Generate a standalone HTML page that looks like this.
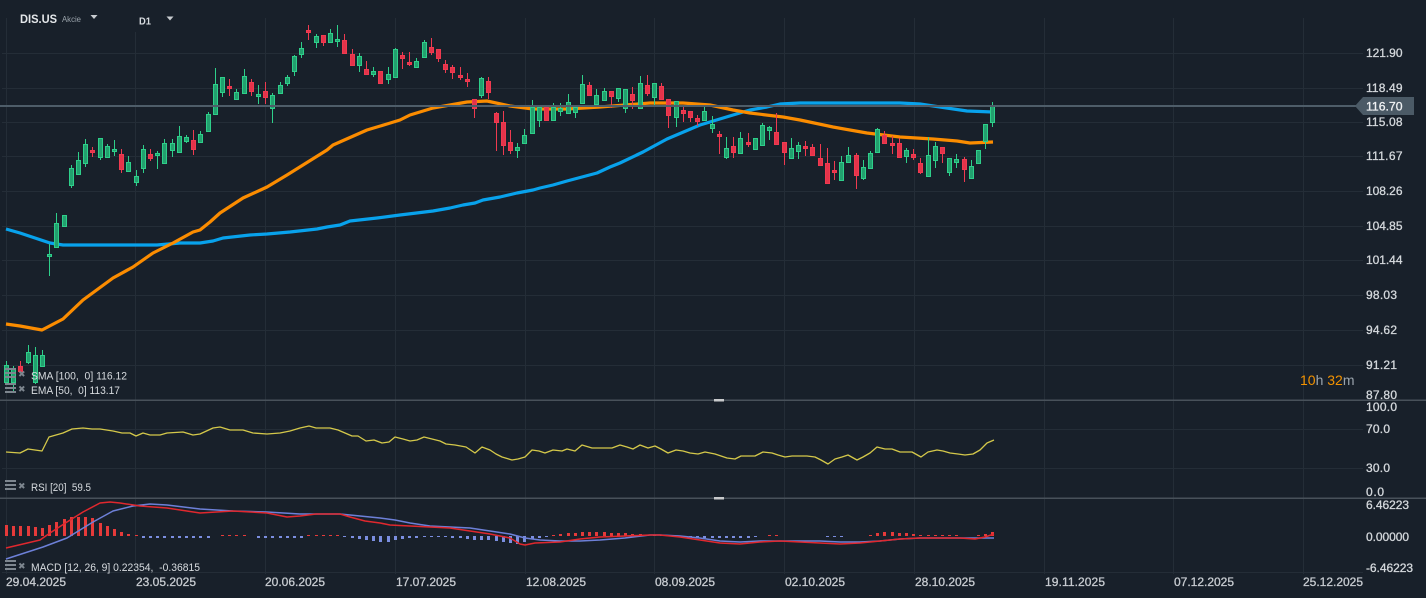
<!DOCTYPE html>
<html><head><meta charset="utf-8"><style>
html,body{margin:0;padding:0;background:#18202a;}
svg{display:block;font-family:"Liberation Sans",sans-serif;}
</style></head><body>
<svg width="1426" height="598" viewBox="0 0 1426 598" xmlns="http://www.w3.org/2000/svg">
<rect width="1426" height="598" fill="#18202a"/>
<!-- grid -->
<g stroke="#242d37" stroke-width="1">
<path d="M6.5 18V574M135.5 32V574M265.5 18V574M395.5 18V574M525.5 18V574M654.5 18V574M784.5 18V574M914.5 18V574M1044.5 18V574M1173.5 18V574M1303.5 18V574"/>
<path d="M2 53.5H1363M2 88.5H1363M2 122.5H1363M2 156.5H1363M2 191.5H1363M2 226.5H1363M2 260.5H1363M2 295.5H1363M2 330.5H1363M2 365.5H1363M2 429.5H1363M2 468.5H1363M2 572.5H1363"/>
</g>
<!-- separators -->
<rect x="0" y="399.5" width="1426" height="1.5" fill="#48515a"/>
<rect x="0" y="497.5" width="1426" height="1.5" fill="#48515a"/>
<rect x="714" y="399" width="10" height="2.5" fill="#c8cacc"/>
<rect x="714" y="497" width="10" height="2.5" fill="#c8cacc"/>

<!-- moving averages -->
<polyline fill="none" stroke="#08a2ec" stroke-width="3.2" stroke-linejoin="round" points="6,229 20,233 35,238 50,243 63,245 100,245 157,245 180,243 200,243 213,241 223,238 250,235 267,234 290,232 317,229 327,227 340,225 350,221 377,218 400,215 433,211 450,208 463,205 475,203 483,200 500,197 517,193 533,190 540,188 553,185 567,181 597,173 610,167 620,163 643,152 667,139 700,125 733,115 750,110 767,107 780,104 800,103 900,103 920,104 940,107 967,111 993,112"/>
<polyline fill="none" stroke="#fb8c00" stroke-width="3.2" stroke-linejoin="round" points="6,324 20,326 42,330 63,319 83,300 113,278 133,267 153,253 173,243 193,232 200,230 210,222 220,213 243,198 267,187 287,175 303,165 327,150 333,145 367,130 387,124 400,120 410,115 433,108 467,102 487,101 510,106 533,109 567,109 600,107 650,103 683,103 710,105 733,110 750,113 783,117 800,120 833,127 867,133 900,137 933,139 957,141 970,143 993,142"/>

<!-- wicks -->
<path fill="none" stroke="#2ecf8a" stroke-width="1" d="M6.5 361V385M13.5 366V392M28.5 345V364M35.5 347V384M42.5 350V367M49.5 244V276M56.5 213V248M64.5 215V227M71.5 165V188M78.5 152V175M85.5 139V167M100.5 138V160M107.5 144V158M114.5 140V156M128.5 156V172M136.5 170V186M143.5 145V173M157.5 151V169M164.5 139V164M172.5 139V157M179.5 126V153M186.5 135V143M200.5 131V143M208.5 112V132M215.5 68V115M222.5 77V97M236.5 89V100M244.5 69V94M258.5 85V104M272.5 93V123M280.5 82V94M287.5 75V86M294.5 55V76M301.5 42V58M316.5 34V48M330.5 29V43M337.5 25V47M359.5 53V72M373.5 67V77M388.5 67V84M395.5 48V78M416.5 58V68M424.5 40V58M481.5 77V98M517.5 143V158M524.5 129V144M532.5 100V134M539.5 107V127M553.5 103V121M560.5 103V116M568.5 94V114M575.5 107V118M582.5 75V104M596.5 89V105M604.5 88V101M618.5 88V102M625.5 89V113M640.5 76V109M654.5 83V105M676.5 101V127M704.5 107V121M712.5 116V133M726.5 137V159M740.5 132V154M755.5 138V150M762.5 123V146M769.5 126V140M791.5 138V159M798.5 142V159M841.5 156V181M848.5 147V163M863.5 160V180M870.5 151V169M877.5 128V153M906.5 148V163M928.5 137V177M935.5 142V168M949.5 158V176M956.5 154V168M971.5 160V179M978.5 150V164M985.5 124V149M992.5 102V127"/>
<path fill="none" stroke="#ef3a50" stroke-width="1" d="M20.5 361V373M92.5 147V157M121.5 149V173M150.5 149V161M193.5 130V155M229.5 79V96M251.5 79V96M265.5 82V104M308.5 25V40M323.5 35V46M344.5 34V54M352.5 49V66M366.5 61V75M380.5 71V84M402.5 52V69M409.5 52V66M431.5 38V55M438.5 49V62M445.5 60V73M452.5 65V79M460.5 67V80M467.5 73V87M474.5 99V118M488.5 77V99M496.5 112V151M503.5 111V155M510.5 130V154M546.5 107V121M589.5 82V96M611.5 91V108M632.5 87V109M647.5 75V96M661.5 83V100M668.5 99V128M683.5 105V122M690.5 111V122M697.5 115V126M719.5 131V154M733.5 137V158M748.5 133V147M776.5 113V145M784.5 142V165M805.5 141V156M812.5 144V156M820.5 144V166M827.5 148V184M834.5 161V180M856.5 153V189M884.5 131V144M892.5 136V154M899.5 138V158M913.5 149V160M920.5 158V174M942.5 147V163M964.5 157V182"/>

<!-- green bodies -->
<g fill="#22a06e" stroke="#2ecf8a" stroke-width="1">
<rect x="4.5" y="365.5" width="4" height="17"/><rect x="11.5" y="368.5" width="4" height="14"/><rect x="26.5" y="352.5" width="4" height="10"/><rect x="33.5" y="355.5" width="4" height="27"/><rect x="40.5" y="355.5" width="4" height="11"/><rect x="47.5" y="254.5" width="4" height="2"/><rect x="54.5" y="223.5" width="4" height="24"/><rect x="62.5" y="215.5" width="4" height="11"/><rect x="69.5" y="168.5" width="4" height="17"/><rect x="76.5" y="160.5" width="4" height="14"/><rect x="83.5" y="144.5" width="4" height="19"/><rect x="98.5" y="138.5" width="4" height="19"/><rect x="105.5" y="146.5" width="4" height="11"/><rect x="112.5" y="149.5" width="4" height="2"/><rect x="126.5" y="162.5" width="4" height="9"/><rect x="134.5" y="176.5" width="4" height="6"/><rect x="141.5" y="149.5" width="4" height="19"/><rect x="155.5" y="153.5" width="4" height="2"/><rect x="162.5" y="143.5" width="4" height="20"/><rect x="170.5" y="143.5" width="4" height="7"/><rect x="177.5" y="136.5" width="4" height="16"/><rect x="184.5" y="137.5" width="4" height="4"/><rect x="198.5" y="134.5" width="4" height="8"/><rect x="206.5" y="114.5" width="4" height="17"/><rect x="213.5" y="84.5" width="4" height="30"/><rect x="220.5" y="77.5" width="4" height="15"/><rect x="234.5" y="92.5" width="4" height="7"/><rect x="242.5" y="76.5" width="4" height="17"/><rect x="256.5" y="94.5" width="4" height="2"/><rect x="270.5" y="95.5" width="4" height="13"/><rect x="278.5" y="85.5" width="4" height="8"/><rect x="285.5" y="77.5" width="4" height="6"/><rect x="292.5" y="56.5" width="4" height="15"/><rect x="299.5" y="48.5" width="4" height="6"/><rect x="314.5" y="36.5" width="4" height="6"/><rect x="328.5" y="33.5" width="4" height="9"/><rect x="335.5" y="39.5" width="4" height="2"/><rect x="357.5" y="56.5" width="4" height="9"/><rect x="371.5" y="71.5" width="4" height="3"/><rect x="386.5" y="74.5" width="4" height="5"/><rect x="393.5" y="49.5" width="4" height="28"/><rect x="414.5" y="61.5" width="4" height="6"/><rect x="422.5" y="42.5" width="4" height="15"/><rect x="479.5" y="78.5" width="4" height="17"/><rect x="515.5" y="147.5" width="4" height="3"/><rect x="522.5" y="135.5" width="4" height="8"/><rect x="530.5" y="107.5" width="4" height="26"/><rect x="537.5" y="107.5" width="4" height="13"/><rect x="551.5" y="107.5" width="4" height="13"/><rect x="558.5" y="108.5" width="4" height="3"/><rect x="566.5" y="102.5" width="4" height="11"/><rect x="573.5" y="107.5" width="4" height="5"/><rect x="580.5" y="84.5" width="4" height="19"/><rect x="594.5" y="95.5" width="4" height="9"/><rect x="602.5" y="91.5" width="4" height="9"/><rect x="616.5" y="88.5" width="4" height="10"/><rect x="623.5" y="89.5" width="4" height="19"/><rect x="638.5" y="83.5" width="4" height="25"/><rect x="652.5" y="83.5" width="4" height="14"/><rect x="674.5" y="101.5" width="4" height="16"/><rect x="702.5" y="111.5" width="4" height="9"/><rect x="710.5" y="124.5" width="4" height="4"/><rect x="724.5" y="148.5" width="4" height="9"/><rect x="738.5" y="138.5" width="4" height="15"/><rect x="753.5" y="138.5" width="4" height="11"/><rect x="760.5" y="125.5" width="4" height="20"/><rect x="767.5" y="127.5" width="4" height="3"/><rect x="789.5" y="148.5" width="4" height="10"/><rect x="796.5" y="145.5" width="4" height="6"/><rect x="839.5" y="162.5" width="4" height="18"/><rect x="846.5" y="155.5" width="4" height="7"/><rect x="861.5" y="167.5" width="4" height="11"/><rect x="868.5" y="153.5" width="4" height="15"/><rect x="875.5" y="129.5" width="4" height="23"/><rect x="904.5" y="150.5" width="4" height="6"/><rect x="926.5" y="155.5" width="4" height="21"/><rect x="933.5" y="146.5" width="4" height="14"/><rect x="947.5" y="158.5" width="4" height="14"/><rect x="954.5" y="159.5" width="4" height="3"/><rect x="969.5" y="166.5" width="4" height="12"/><rect x="976.5" y="150.5" width="4" height="13"/><rect x="983.5" y="124.5" width="4" height="17"/><rect x="990.5" y="106.5" width="4" height="16"/>
</g>
<!-- red bodies -->
<g fill="#e4334a" stroke="#f03a50" stroke-width="1">
<rect x="18.5" y="366.5" width="4" height="5"/><rect x="90.5" y="150.5" width="4" height="2"/><rect x="119.5" y="154.5" width="4" height="15"/><rect x="148.5" y="154.5" width="4" height="4"/><rect x="191.5" y="140.5" width="4" height="9"/><rect x="227.5" y="86.5" width="4" height="2"/><rect x="249.5" y="82.5" width="4" height="9"/><rect x="263.5" y="91.5" width="4" height="6"/><rect x="306.5" y="30.5" width="4" height="2"/><rect x="321.5" y="35.5" width="4" height="7"/><rect x="342.5" y="40.5" width="4" height="13"/><rect x="350.5" y="54.5" width="4" height="11"/><rect x="364.5" y="69.5" width="4" height="5"/><rect x="378.5" y="71.5" width="4" height="12"/><rect x="400.5" y="55.5" width="4" height="3"/><rect x="407.5" y="62.5" width="4" height="2"/><rect x="429.5" y="47.5" width="4" height="5"/><rect x="436.5" y="49.5" width="4" height="9"/><rect x="443.5" y="64.5" width="4" height="5"/><rect x="450.5" y="67.5" width="4" height="5"/><rect x="458.5" y="75.5" width="4" height="2"/><rect x="465.5" y="79.5" width="4" height="2"/><rect x="472.5" y="99.5" width="4" height="9"/><rect x="486.5" y="81.5" width="4" height="11"/><rect x="494.5" y="113.5" width="4" height="9"/><rect x="501.5" y="122.5" width="4" height="23"/><rect x="508.5" y="142.5" width="4" height="8"/><rect x="544.5" y="107.5" width="4" height="13"/><rect x="587.5" y="85.5" width="4" height="10"/><rect x="609.5" y="91.5" width="4" height="5"/><rect x="630.5" y="94.5" width="4" height="6"/><rect x="645.5" y="85.5" width="4" height="8"/><rect x="659.5" y="86.5" width="4" height="13"/><rect x="666.5" y="99.5" width="4" height="16"/><rect x="681.5" y="110.5" width="4" height="3"/><rect x="688.5" y="111.5" width="4" height="6"/><rect x="695.5" y="118.5" width="4" height="3"/><rect x="717.5" y="134.5" width="4" height="2"/><rect x="731.5" y="146.5" width="4" height="6"/><rect x="746.5" y="142.5" width="4" height="2"/><rect x="774.5" y="132.5" width="4" height="12"/><rect x="782.5" y="142.5" width="4" height="10"/><rect x="803.5" y="146.5" width="4" height="2"/><rect x="810.5" y="147.5" width="4" height="8"/><rect x="818.5" y="158.5" width="4" height="7"/><rect x="825.5" y="163.5" width="4" height="20"/><rect x="832.5" y="170.5" width="4" height="2"/><rect x="854.5" y="155.5" width="4" height="20"/><rect x="882.5" y="135.5" width="4" height="8"/><rect x="890.5" y="143.5" width="4" height="2"/><rect x="897.5" y="143.5" width="4" height="14"/><rect x="911.5" y="154.5" width="4" height="3"/><rect x="918.5" y="163.5" width="4" height="9"/><rect x="940.5" y="147.5" width="4" height="6"/><rect x="962.5" y="159.5" width="4" height="10"/>
</g>

<!-- current price line & tag -->
<rect x="0" y="105" width="1357" height="2" fill="#4e5d69"/>
<polygon points="1355,106 1363,97 1414,97 1414,115 1363,115" fill="#4b5a66"/>
<text x="1366" y="110.5" font-size="12" fill="#f0f2f4" stroke="#f0f2f4" stroke-width="0.3" textLength="36.5" lengthAdjust="spacingAndGlyphs">116.70</text>

<!-- right axis labels -->
<g font-size="12" fill="#d4d8dc" stroke="#d4d8dc" stroke-width="0.3">
<text x="1366" y="57" textLength="36.5">121.90</text>
<text x="1366" y="92" textLength="36.5">118.49</text>
<text x="1366" y="126" textLength="36.5">115.08</text>
<text x="1366" y="160" textLength="36.5">111.67</text>
<text x="1366" y="195" textLength="36.5">108.26</text>
<text x="1366" y="230" textLength="36.5">104.85</text>
<text x="1366" y="264" textLength="36.5">101.44</text>
<text x="1366" y="299" textLength="31">98.03</text>
<text x="1366" y="334" textLength="31">94.62</text>
<text x="1366" y="369" textLength="31">91.21</text>
<text x="1366" y="399" textLength="31">87.80</text>
<text x="1366" y="411" textLength="31">100.0</text>
<text x="1366" y="433" textLength="24">70.0</text>
<text x="1366" y="472" textLength="24">30.0</text>
<text x="1366" y="496" textLength="18">0.0</text>
<text x="1366" y="509" textLength="43">6.46223</text>
<text x="1366" y="541" textLength="43">0.00000</text>
<text x="1366" y="572" textLength="47">-6.46223</text>
</g>

<!-- countdown -->
<text x="1300" y="385" font-size="14"><tspan fill="#f39200">10</tspan><tspan fill="#9aa4ad">h </tspan><tspan fill="#f39200">32</tspan><tspan fill="#9aa4ad">m</tspan></text>

<!-- RSI -->
<polyline fill="none" stroke="#d4c84a" stroke-width="1.3" stroke-linejoin="round" points="6,452 20,453 28,449 42,451 49,437 63,433 72,429 83,428 92,429 100,429 113,431 122,433 130,433 136,436 143,433 150,435 160,435 167,433 183,432 193,435 200,434 213,428 220,427 230,430 243,430 253,433 267,434 280,433 290,431 300,428 309,426 316,428 322,428 330,428 338,430 345,433 352,436 358,436 366,441 374,440 382,443 389,442 395,437 403,439 410,441 417,440 424,437 432,439 440,441 446,444 455,445 466,447 475,453 482,447 490,450 496,454 502,457 512,460 518,459 525,457 532,450 539,451 545,453 553,450 562,451 567,449 575,451 582,445 592,448 603,448 612,448 620,445 627,447 633,449 640,445 648,448 655,446 661,449 668,453 676,450 683,451 690,453 698,454 705,452 715,454 721,456 727,458 735,459 741,456 748,456 755,456 763,452 772,453 778,455 785,457 792,456 800,456 807,456 815,457 821,460 828,464 835,459 842,457 848,455 857,460 863,457 870,453 877,447 885,449 892,449 900,452 906,452 912,452 921,457 928,452 937,450 943,451 950,453 958,454 965,455 973,454 980,450 987,443 994,440"/>

<!-- MACD histogram -->
<g fill="#e53a3a">
<rect x="5" y="525" width="3" height="11"/><rect x="12" y="526" width="3" height="10"/><rect x="19" y="526" width="3" height="10"/><rect x="27" y="526" width="3" height="10"/><rect x="34" y="527" width="3" height="9"/><rect x="41" y="528" width="3" height="8"/><rect x="48" y="525" width="3" height="11"/><rect x="55" y="522" width="3" height="14"/><rect x="63" y="519" width="3" height="17"/><rect x="70" y="517" width="3" height="19"/><rect x="77" y="517" width="3" height="19"/><rect x="84" y="517" width="3" height="19"/><rect x="91" y="518" width="3" height="18"/><rect x="99" y="523" width="3" height="13"/><rect x="106" y="526" width="3" height="10"/><rect x="113" y="529" width="3" height="7"/><rect x="120" y="532" width="3" height="4"/><rect x="127" y="534" width="3" height="2"/><rect x="135" y="535" width="3" height="1"/>
<rect x="221" y="535" width="3" height="1"/><rect x="228" y="535" width="3" height="1"/><rect x="235" y="535" width="3" height="1"/><rect x="243" y="535" width="3" height="1"/>
<rect x="307" y="535" width="3" height="1"/><rect x="315" y="535" width="3" height="1"/><rect x="322" y="535" width="3" height="1"/><rect x="329" y="535" width="3" height="1"/><rect x="336" y="535" width="3" height="1"/>
<rect x="552" y="535" width="3" height="1"/><rect x="559" y="534" width="3" height="2"/><rect x="567" y="533" width="3" height="3"/><rect x="574" y="533" width="3" height="3"/><rect x="581" y="532" width="3" height="4"/><rect x="588" y="532" width="3" height="4"/><rect x="595" y="532" width="3" height="4"/><rect x="603" y="532" width="3" height="4"/><rect x="610" y="533" width="3" height="3"/><rect x="617" y="533" width="3" height="3"/><rect x="624" y="533" width="3" height="3"/><rect x="631" y="534" width="3" height="2"/><rect x="639" y="534" width="3" height="2"/><rect x="646" y="535" width="3" height="1"/><rect x="653" y="535" width="3" height="1"/><rect x="660" y="535" width="3" height="1"/>
<rect x="768" y="535" width="3" height="1"/><rect x="775" y="535" width="3" height="1"/>
<rect x="869" y="535" width="3" height="1"/><rect x="876" y="533" width="3" height="3"/><rect x="883" y="532" width="3" height="4"/><rect x="891" y="532" width="3" height="4"/><rect x="898" y="533" width="3" height="3"/><rect x="905" y="533" width="3" height="3"/><rect x="912" y="534" width="3" height="2"/><rect x="919" y="535" width="3" height="1"/><rect x="927" y="535" width="3" height="1"/><rect x="934" y="535" width="3" height="1"/><rect x="941" y="535" width="3" height="1"/><rect x="948" y="535" width="3" height="1"/><rect x="955" y="535" width="3" height="1"/><rect x="977" y="535" width="3" height="1"/><rect x="984" y="534" width="3" height="2"/><rect x="991" y="532" width="3" height="4"/>
</g>
<g fill="#7b8ee0">
<rect x="142" y="536" width="3" height="2"/><rect x="149" y="536" width="3" height="2"/><rect x="156" y="536" width="3" height="2"/><rect x="163" y="536" width="3" height="2"/><rect x="171" y="536" width="3" height="2"/><rect x="178" y="536" width="3" height="2"/><rect x="185" y="536" width="3" height="2"/><rect x="192" y="536" width="3" height="2"/><rect x="199" y="536" width="3" height="2"/><rect x="207" y="536" width="3" height="2"/>
<rect x="257" y="536" width="3" height="2"/><rect x="264" y="536" width="3" height="2"/><rect x="271" y="536" width="3" height="2"/><rect x="279" y="536" width="3" height="2"/><rect x="286" y="536" width="3" height="2"/><rect x="293" y="536" width="3" height="2"/><rect x="300" y="536" width="3" height="2"/>
<rect x="343" y="536" width="3" height="1"/><rect x="351" y="536" width="3" height="2"/><rect x="358" y="536" width="3" height="3"/><rect x="365" y="536" width="3" height="4"/><rect x="372" y="536" width="3" height="5"/><rect x="379" y="536" width="3" height="6"/><rect x="387" y="536" width="3" height="6"/><rect x="394" y="536" width="3" height="4"/><rect x="401" y="536" width="3" height="3"/><rect x="408" y="536" width="3" height="2"/><rect x="415" y="536" width="3" height="2"/><rect x="423" y="536" width="3" height="1"/><rect x="430" y="536" width="3" height="1"/><rect x="437" y="536" width="3" height="1"/><rect x="444" y="536" width="3" height="1"/><rect x="451" y="536" width="3" height="2"/><rect x="459" y="536" width="3" height="2"/><rect x="466" y="536" width="3" height="3"/><rect x="473" y="536" width="3" height="4"/><rect x="480" y="536" width="3" height="4"/><rect x="487" y="536" width="3" height="4"/><rect x="495" y="536" width="3" height="5"/><rect x="502" y="536" width="3" height="6"/><rect x="509" y="536" width="3" height="7"/><rect x="516" y="536" width="3" height="8"/><rect x="523" y="536" width="3" height="6"/><rect x="531" y="536" width="3" height="3"/><rect x="538" y="536" width="3" height="2"/><rect x="545" y="536" width="3" height="1"/>
<rect x="682" y="536" width="3" height="1"/><rect x="689" y="536" width="3" height="1"/><rect x="696" y="536" width="3" height="2"/><rect x="703" y="536" width="3" height="2"/><rect x="711" y="536" width="3" height="2"/><rect x="718" y="536" width="3" height="2"/><rect x="725" y="536" width="3" height="2"/><rect x="732" y="536" width="3" height="2"/><rect x="739" y="536" width="3" height="2"/><rect x="747" y="536" width="3" height="2"/><rect x="754" y="536" width="3" height="1"/>
<rect x="826" y="536" width="3" height="1"/><rect x="833" y="536" width="3" height="1"/><rect x="840" y="536" width="3" height="1"/>
</g>
<!-- MACD lines -->
<polyline fill="none" stroke="#6d80d8" stroke-width="1.5" stroke-linejoin="round" points="6,559 43,547 67,538 93,522 113,511 133,506 150,504 167,505 200,509 233,511 267,512 300,514 340,514 360,516 380,518 395,520 410,523 430,526 450,527 470,528 490,531 510,534 525,538 540,540 560,541 580,541 600,540 625,538 650,535 660,535 680,536 700,538 720,541 740,542 760,541 780,541 800,541 820,541 840,542 860,542 880,541 900,539 920,538 940,538 960,538 994,538"/>
<polyline fill="none" stroke="#e0282e" stroke-width="1.5" stroke-linejoin="round" points="6,548 40,540 50,533 67,522 83,512 100,503 110,502 120,503 140,506 167,508 200,513 233,511 267,513 287,517 300,516 316,514 340,514 350,517 365,521 380,523 390,525 410,526 430,527 450,528 470,531 490,534 510,538 520,544 525,545 535,543 560,542 580,539 600,537 625,536 650,535 660,535 680,537 700,540 720,543 740,544 760,542 780,541 800,542 820,543 840,544 860,543 880,541 900,539 920,538 940,538 960,538 975,539 985,537 994,534"/>

<!-- legends -->
<g fill="#7d868f">
<rect x="5" y="368" width="11" height="2"/><rect x="5" y="372" width="11" height="2"/><rect x="5" y="376" width="11" height="2"/>
<rect x="5" y="383" width="11" height="2"/><rect x="5" y="387" width="11" height="2"/><rect x="5" y="391" width="11" height="2"/>
<rect x="5" y="480" width="11" height="2"/><rect x="5" y="484" width="11" height="2"/><rect x="5" y="488" width="11" height="2"/>
<rect x="5" y="560" width="11" height="2"/><rect x="5" y="564" width="11" height="2"/><rect x="5" y="568" width="11" height="2"/>
</g>
<g font-family="'DejaVu Sans',sans-serif" font-size="9" fill="#7d868f">
<text x="18" y="377">✖</text><text x="18" y="392">✖</text><text x="18" y="489">✖</text><text x="18" y="569">✖</text>
</g>
<g font-size="11" fill="#d8dce0">
<text x="31" y="379.5" textLength="96" lengthAdjust="spacingAndGlyphs" xml:space="preserve">SMA [100,  0] 116.12</text>
<text x="31" y="394" textLength="89" lengthAdjust="spacingAndGlyphs" xml:space="preserve">EMA [50,  0] 113.17</text>
<text x="31" y="491" textLength="60" lengthAdjust="spacingAndGlyphs" xml:space="preserve">RSI [20]  59.5</text>
<text x="31" y="571" textLength="169" lengthAdjust="spacingAndGlyphs" xml:space="preserve">MACD [12, 26, 9] 0.22354,  -0.36815</text>
</g>

<!-- date labels -->
<g font-size="12" fill="#c8ccd1" stroke="#c8ccd1" stroke-width="0.3">
<text x="6" y="586" textLength="60">29.04.2025</text>
<text x="136" y="586" textLength="60">23.05.2025</text>
<text x="265" y="586" textLength="60">20.06.2025</text>
<text x="396" y="586" textLength="60">17.07.2025</text>
<text x="526" y="586" textLength="60">12.08.2025</text>
<text x="655" y="586" textLength="60">08.09.2025</text>
<text x="785" y="586" textLength="60">02.10.2025</text>
<text x="915" y="586" textLength="60">28.10.2025</text>
<text x="1045" y="586" textLength="60">19.11.2025</text>
<text x="1174" y="586" textLength="60">07.12.2025</text>
<text x="1303" y="586" textLength="60">25.12.2025</text>
</g>

<!-- header -->
<text x="20" y="23" font-size="12" font-weight="bold" fill="#e4e7ea" textLength="37" lengthAdjust="spacingAndGlyphs">DIS.US</text>
<text x="62" y="22" font-size="8" fill="#9aa3ab" textLength="19" lengthAdjust="spacingAndGlyphs">Akcie</text>
<polygon points="90.5,15 97.5,15 94,19" fill="#c8ccd0"/>
<text x="139" y="24.5" font-size="10" font-weight="bold" fill="#d8dce0" textLength="12" lengthAdjust="spacingAndGlyphs">D1</text>
<polygon points="166.5,16.5 173.5,16.5 170,20.5" fill="#c8ccd0"/>
</svg>
</body></html>
